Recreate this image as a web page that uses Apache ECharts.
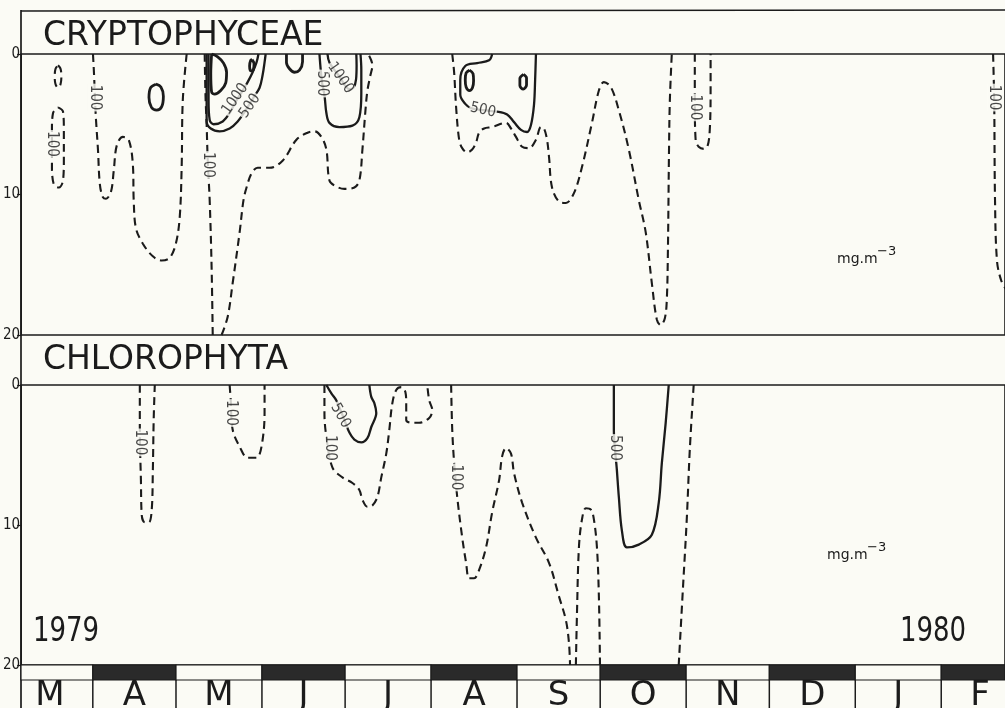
<!DOCTYPE html>
<html><head><meta charset="utf-8">
<script src="https://cdn.jsdelivr.net/npm/echarts@6/dist/echarts.min.js"></script>
<style>html,body{margin:0;padding:0;background:#fbfbf5}#c{width:1005px;height:708px}</style>
</head><body><div id="c"></div>
<script>
// x = days since 1 March 1979, y = depth (m)
const monthStarts = [0,31,61,92,122,153,184,214,245,275,306,337,365];
const monthLetters = ['M','A','M','J','J','A','S','O','N','D','J','F'];
const depthTicks = [0,10,20];

// ---- CRYPTOPHYCEAE isopleths ----
const cr100_march1 = [[18.4,0.8],[19.3,1.05],[19.6,1.6],[19.3,2.15],[18.4,2.4],[17.5,2.15],[17.2,1.6],[17.5,1.05],[18.4,0.8]];
const cr100_march2 = [[18.4,3.8],[20.2,4.1],[20.5,5.4],[20.5,7.5],[20.2,9.0],[18.7,9.5],[16.9,9.3],[16.2,7.9],[16.2,5.4],[16.6,4.2],[18.4,3.8]];
const cr100_april = [[31.0,0],[31.4,1.5],[31.7,3.1],[32.1,4.7],[32.8,6.8],[33.5,9.3],[34.6,10.2],[35.7,10.3],[37.5,9.8],[38.5,8.3],[39.6,6.5],[41.8,5.9],[43.9,6.1],[45.4,7.9],[45.7,10.4],[46.5,12.4],[49.0,13.5],[52.6,14.4],[55.8,14.7],[58.7,14.5],[60.9,13.5],[62.3,11.6],[63.0,8.0],[63.4,3.3],[64.8,0]];
const cr0_april = [[53.7,2.15],[55.5,2.35],[56.4,3.0],[55.8,3.75],[54.0,4.0],[52.1,3.8],[51.2,3.1],[51.8,2.4],[53.7,2.15]];
const cr100_mayLeft = [[71.3,0],[71.6,3.0],[72.0,5.0],[72.4,7.6],[73.1,10.4],[73.8,15.2],[74.2,20]];
const cr100_mayJuly = [[77.4,20],[79.6,18.7],[81.4,16.3],[83.9,12.7],[85.3,10.4],[86.4,9.5],[88.2,8.5],[90.4,8.1],[94.7,8.1],[99.4,7.6],[104.4,6.1],[108.4,5.6],[110.9,5.5],[113.4,5.9],[115.2,6.8],[116.3,9.0],[118.5,9.4],[121.7,9.6],[125.3,9.5],[127.1,9.0],[128.2,6.8],[129.3,4.0],[130.0,2.6],[131.1,1.5],[131.8,0.8],[130.3,0]];
const cr500_may = [[72.0,0],[72.0,3.3],[72.0,4.8],[73.5,5.3],[76.7,5.5],[80.3,5.3],[83.2,4.8],[86.1,4.0],[88.9,3.1],[91.1,2.4],[92.2,1.5],[92.9,0.6],[93.3,0]];
const cr1000_may = [[72.7,0],[72.7,3.3],[73.1,4.7],[74.5,5.0],[77.8,4.8],[80.3,4.2],[82.5,3.4],[85.0,2.6],[86.8,2.0],[88.6,1.3],[90.0,0.6],[90.7,0]];
const crCore_mayP = [[73.8,0],[76.0,0.2],[78.1,0.65],[79.2,1.3],[78.9,2.05],[77.1,2.6],[74.9,2.85],[73.8,2.7],[73.5,1.4],[73.8,0]];
const crCore_maySmall = [[88.4,0.4],[89.1,0.7],[88.8,1.15],[88.0,1.2],[87.5,0.85],[87.9,0.45],[88.4,0.4]];
const crCore_june = [[100.8,0],[100.8,0.6],[101.9,1.05],[103.7,1.3],[105.5,1.15],[106.6,0.55],[106.6,0]];
const cr500_july = [[112.7,0],[113.1,1.0],[113.6,2.0],[114.5,2.9],[115.2,4.2],[116.3,4.9],[119.9,5.2],[124.6,5.1],[127.1,4.5],[127.8,2.8],[127.8,1.1],[127.5,0]];
const cr1000_july = [[115.6,0],[116.3,0.6],[119.9,1.6],[123.5,2.5],[125.0,2.4],[125.9,1.8],[126.1,0.8],[126.0,0]];
const cr100_aug = [[160.6,0],[161.3,1.35],[162.0,3.8],[163.1,6.1],[164.2,6.7],[166.0,7.0],[167.8,6.8],[169.2,6.3],[170.3,5.6],[172.1,5.3],[175.0,5.2],[180.0,4.9],[181.8,5.3],[183.6,5.9],[185.8,6.6],[188.3,6.7],[190.8,6.1],[192.6,5.2],[193.7,5.3],[194.8,6.1],[195.5,7.3],[196.6,9.5],[199.1,10.5],[201.6,10.6],[204.5,9.9],[207.4,8.05],[211.0,4.9],[213.5,2.6],[215.3,2.0],[217.8,2.35],[220.7,4.0],[224.3,6.8],[227.9,10.4],[230.4,12.7],[232.6,16.3],[234.4,18.9],[235.8,19.3],[237.3,18.8],[238.0,17.5],[238.4,14.0],[238.8,6.8],[239.1,3.3],[239.8,0]];
const cr500_aug = [[175.0,0],[173.9,0.45],[169.6,0.65],[165.3,0.85],[163.5,1.85],[163.5,2.9],[165.3,3.55],[167.4,3.85],[171.7,4.0],[176.8,4.1],[180.4,4.3],[182.9,4.85],[185.4,5.4],[187.6,5.55],[189.0,5.05],[190.1,3.6],[190.5,1.85],[190.8,0]];
const crCore_aug1 = [[166.8,1.15],[168.1,1.4],[168.3,1.9],[167.9,2.4],[166.8,2.6],[165.6,2.35],[165.3,1.85],[165.6,1.35],[166.8,1.15]];
const crCore_aug2 = [[186.3,1.45],[187.4,1.7],[187.4,2.2],[186.2,2.5],[185.0,2.25],[185.0,1.75],[186.3,1.45]];
const cr100_nov = [[248.1,0],[248.1,3.3],[248.4,6.1],[249.5,6.6],[251.3,6.75],[252.7,6.55],[253.5,5.4],[253.8,2.6],[253.8,0]];
const cr100_feb = [[355.7,0],[356.1,3.3],[356.4,10.4],[357.1,14.7],[358.6,16.1],[360.5,16.8]];
// labels: [day, depth, text, rotation]
const crLabels = [[16.3,6.4,'100',-90],[31.7,3.1,'100',-90],[72.6,7.9,'100',-90],[82.3,3.2,'1000',55],[87.6,3.7,'500',55],[113.5,2.1,'500',-90],[120.3,1.7,'1000',-55],[171.7,4.0,'500',-12],[248.3,3.8,'100',-90],[356.1,3.1,'100',-90]];

// ---- CHLOROPHYTA isopleths ----
const ch100_april = [[47.9,0],[47.9,3.2],[48.3,6.8],[48.6,9.3],[49.7,9.8],[51.2,9.8],[52.2,8.9],[52.6,6.1],[52.9,2.5],[53.3,0]];
const ch100_may = [[80.3,0],[80.7,1.1],[81.4,3.2],[83.9,4.4],[86.8,5.2],[90.0,5.2],[91.8,4.4],[92.9,2.0],[92.9,0]];
const ch500_july = [[115.2,0],[117.0,0.6],[118.8,1.1],[121.7,2.5],[123.5,3.4],[125.3,3.9],[127.8,4.1],[130.0,3.8],[131.4,3.0],[133.2,2.0],[132.5,1.3],[131.4,0.85],[130.7,0]];
const ch100_july = [[114.5,0],[114.5,2.0],[115.2,3.7],[117.4,5.9],[121.0,6.6],[124.6,7.0],[127.1,7.5],[128.2,8.2],[130.0,8.7],[131.8,8.6],[133.6,8.0],[135.0,6.6],[136.8,4.9],[137.9,3.2],[139.0,1.3],[140.4,0.35],[142.2,0.15],[143.7,0.5],[144.0,1.3],[144.0,2.5],[145.8,2.7],[148.7,2.7],[152.3,2.35],[153.4,1.8],[152.3,1.1],[151.6,0]];
const ch100_aug = [[160.2,0],[160.6,3.2],[161.3,5.6],[162.4,8.0],[164.2,10.9],[165.6,12.7],[166.7,13.8],[168.5,13.8],[170.3,13.2],[172.8,11.6],[175.0,9.1],[177.5,6.8],[178.6,5.1],[180.0,4.5],[181.8,4.9],[182.9,6.3],[185.8,8.4],[190.8,10.9],[195.5,12.7],[199.1,15.1],[201.6,16.8],[202.7,18.4],[203.1,20]];
const ch100_sep = [[205.2,20],[205.6,16.3],[206.3,11.6],[207.4,9.6],[208.8,8.8],[210.6,8.9],[211.7,9.6],[212.8,11.6],[213.5,15.1],[213.9,20]];
const ch500_oct = [[218.9,0],[218.9,3.2],[220.0,6.1],[220.7,8.0],[221.8,10.4],[223.6,11.6],[227.9,11.4],[232.6,10.7],[235.1,8.4],[236.2,5.6],[237.6,2.7],[238.7,0]];
const ch100_octnov = [[247.7,0],[246.3,4.6],[245.2,9.6],[243.8,14.6],[242.3,20]];
const chLabels = [[47.9,4.1,'100',-90],[80.8,2.0,'100',-90],[120.3,2.2,'500',-60],[116.3,4.5,'100',-90],[161.9,6.6,'100',-90],[219.1,4.5,'500',-90]];

const cryptoContours = [
  {level:100, pts:cr100_march1},{level:100, pts:cr100_march2},{level:100, pts:cr100_april},
  {level:'core', pts:cr0_april},{level:100, pts:cr100_mayLeft},{level:100, pts:cr100_mayJuly},
  {level:500, pts:cr500_may},{level:1000, pts:cr1000_may},{level:'core', pts:crCore_mayP},
  {level:'core', pts:crCore_maySmall},{level:'core', pts:crCore_june},{level:500, pts:cr500_july},
  {level:1000, pts:cr1000_july},{level:100, pts:cr100_aug},{level:500, pts:cr500_aug},
  {level:'core', pts:crCore_aug1},{level:'core', pts:crCore_aug2},{level:100, pts:cr100_nov},
  {level:100, pts:cr100_feb}
];
const chloroContours = [
  {level:100, pts:ch100_april},{level:100, pts:ch100_may},{level:500, pts:ch500_july},
  {level:100, pts:ch100_july},{level:100, pts:ch100_aug},{level:100, pts:ch100_sep},
  {level:500, pts:ch500_oct},{level:100, pts:ch100_octnov}
];

const INK = '#1b1b1b', BG = '#fbfbf5', DARK = '#2a2a2a';
const X_MIN = 5.1, X_MAX = 360.0;
const NUMFONT = '"DejaVu Sans Condensed","DejaVu Sans"';

function contourSeries(list, gi) {
  return list.map(c => ({
    type:'line', xAxisIndex:gi, yAxisIndex:gi, data:c.pts, smooth:0.35,
    showSymbol:false, symbol:'none', silent:true, animation:false, z:3,
    lineStyle:{color:INK, width: c.level===100 ? 2.1 : (c.level==='core' ? 2.8 : 2.3),
      type: c.level===100 ? [8,5] : 'solid', cap:'butt'}
  }));
}
function labelSeries(list, gi) {
  return {
    type:'scatter', xAxisIndex:gi, yAxisIndex:gi, symbolSize:1, silent:true, animation:false, z:6,
    itemStyle:{color:'rgba(0,0,0,0)'},
    data:list.map(l => ({value:[l[0],l[1]], name:l[2], label:{rotate:l[3]}})),
    label:{show:true, position:'inside', formatter:'{b}', color:INK, fontSize:15,
      fontFamily:NUMFONT, backgroundColor:BG, padding:[0,1], lineHeight:14}
  };
}
const xAx = gi => ({type:'value', gridIndex:gi, min:X_MIN, max:X_MAX, show:false});
const yAx = gi => ({type:'value', gridIndex:gi, min:0, max:20, interval:10, inverse:true,
  axisLine:{show:false}, splitLine:{show:false},
  axisTick:{show:true, length:4, lineStyle:{color:INK, width:1.2}},
  axisLabel:{show:true, margin:1, color:INK, fontSize:15, fontFamily:NUMFONT,
    formatter: v => depthTicks.includes(v) ? String(v) : ''}});

const monthData = monthLetters.map((m,i) => [monthStarts[i], monthStarts[i+1], 0]);

const chart = echarts.init(document.getElementById('c'), null, {renderer:'canvas'});
chart.setOption({
  backgroundColor: BG,
  animation:false,
  grid:[
    {left:21, right:-2, top:54, height:281, show:true, borderColor:INK, borderWidth:1.6, backgroundColor:'transparent'},
    {left:21, right:-2, top:385, height:280, show:true, borderColor:INK, borderWidth:1.6, backgroundColor:'transparent'},
    {left:21, right:-2, top:665, height:43, show:false}
  ],
  xAxis:[xAx(0), xAx(1), xAx(2)],
  yAxis:[yAx(0), yAx(1), {type:'value', gridIndex:2, min:0, max:1, show:false}],
  series:[
    ...contourSeries(cryptoContours, 0),
    ...contourSeries(chloroContours, 1),
    labelSeries(crLabels, 0),
    labelSeries(chLabels, 1),
    {
      type:'custom', xAxisIndex:2, yAxisIndex:2, data:monthData, silent:true, animation:false, z:4,
      renderItem:(params, api) => {
        const cs = params.coordSys;
        const x0 = api.coord([api.value(0), 0])[0];
        const x1 = api.coord([api.value(1), 0])[0];
        const x0c = Math.max(x0, cs.x), x1c = Math.min(x1, cs.x + cs.width);
        const i = params.dataIndex;
        const children = [
          {type:'rect', shape:{x:x0c, y:cs.y, width:x1c - x0c, height:15},
            style:{fill: i % 2 ? DARK : BG, stroke:INK, lineWidth:1.2}},
          {type:'text', style:{text:monthLetters[i], x:(x0 + x1) / 2, y:cs.y + 31,
            align:'center', verticalAlign:'middle', fontSize:34, fontFamily:'"DejaVu Sans"', fill:INK}}
        ];
        if (x0 >= cs.x) children.push({type:'line', shape:{x1:x0, y1:cs.y + 15, x2:x0, y2:cs.y + cs.height},
          style:{stroke:INK, lineWidth:1.5}});
        return {type:'group', children};
      }
    }
  ],
  graphic:[
    {type:'line', shape:{x1:21, y1:11, x2:1005, y2:10}, style:{stroke:INK, lineWidth:1.6}, silent:true},
    {type:'line', shape:{x1:21, y1:10, x2:21, y2:708}, style:{stroke:INK, lineWidth:1.7}, silent:true},
    {type:'text', left:43, top:20, style:{text:'CRYPTOPHYCEAE', fontSize:33, fontFamily:'"DejaVu Sans"', fill:INK}},
    {type:'text', left:43, top:344, style:{text:'CHLOROPHYTA', fontSize:33, fontFamily:'"DejaVu Sans"', fill:INK}},
    {type:'text', x:33, y:615, scaleX:0.85, style:{text:'1979', fontSize:34, fontFamily:NUMFONT, fill:INK}},
    {type:'text', x:900, y:615, scaleX:0.85, style:{text:'1980', fontSize:34, fontFamily:NUMFONT, fill:INK}},
    {type:'text', left:837, top:252, style:{text:'mg.m', fontSize:14, fontFamily:'"DejaVu Sans"', fill:INK}},
    {type:'text', left:877, top:245, style:{text:'−3', fontSize:13, fontFamily:'"DejaVu Sans"', fill:INK}},
    {type:'text', left:827, top:548, style:{text:'mg.m', fontSize:14, fontFamily:'"DejaVu Sans"', fill:INK}},
    {type:'text', left:867, top:541, style:{text:'−3', fontSize:13, fontFamily:'"DejaVu Sans"', fill:INK}}
  ]
});
</script>
</body></html>
